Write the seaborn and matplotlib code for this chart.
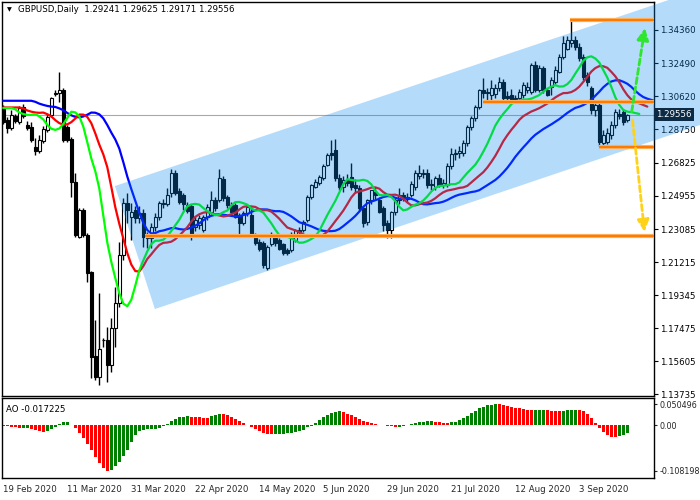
import matplotlib
matplotlib.use("Agg")
import matplotlib.pyplot as plt
import seaborn as sns
import numpy as np
import pandas as pd
from matplotlib.patches import Polygon

# ---------------- data ----------------
opens = [1.2990,1.2926,1.2879,1.2948,1.2913,1.3000,1.2897,1.2888,1.2775,1.2752,
         1.2809,1.2869,1.2954,1.3075,1.3077,1.3096,1.2888,1.2818,1.2577,1.2266,
         1.2417,1.2275,1.2067,1.1589,1.1472,1.1680,1.1680,1.1538,1.1746,1.1887,
         1.2161,1.2454,1.2379,1.2417,1.2369,1.2398,1.2266,1.2256,1.2322,1.2379,
         1.2454,1.2453,1.2510,1.2624,1.2525,1.2501,1.2444,1.2438,1.2322,1.2331,
         1.2302,1.2378,1.2406,1.2472,1.2472,1.2590,1.2491,1.2444,1.2444,1.2387,
         1.2340,1.2397,1.2387,1.2274,1.2236,1.2230,1.2085,1.2226,1.2255,1.2245,
         1.2221,1.2189,1.2189,1.2245,1.2302,1.2302,1.2360,1.2491,1.2548,1.2567,
         1.2595,1.2672,1.2737,1.2756,1.2595,1.2548,1.2585,1.2604,1.2560,1.2540,
         1.2425,1.2350,1.2472,1.2520,1.2472,1.2425,1.2340,1.2302,1.2406,1.2472,
         1.2500,1.2491,1.2500,1.2548,1.2610,1.2625,1.2623,1.2557,1.2548,1.2595,
         1.2557,1.2557,1.2665,1.2733,1.2740,1.2737,1.2793,1.2888,1.2935,1.3001,
         1.3096,1.3077,1.3067,1.3073,1.3105,1.3143,1.3061,1.3067,1.3048,1.3048,
         1.3067,1.3095,1.3086,1.3237,1.3095,1.3218,1.3095,1.3114,1.3143,1.3200,
         1.3284,1.3330,1.3360,1.3382,1.3341,1.3284,1.3180,1.3105,1.2982,1.3010,
         1.2793,1.2802,1.2840,1.2897,1.2960,1.2973,1.29241]
highs = [1.3010,1.2941,1.2983,1.2960,1.3005,1.3015,1.2920,1.2916,1.2822,1.2841,
         1.2890,1.2960,1.3058,1.3095,1.3200,1.3105,1.2898,1.2830,1.2624,1.2426,
         1.2426,1.2285,1.2070,1.1793,1.1944,1.1689,1.1755,1.1802,1.1982,1.2237,
         1.2483,1.2511,1.2454,1.2440,1.2440,1.2420,1.2290,1.2340,1.2400,1.2470,
         1.2480,1.2540,1.2646,1.2640,1.2540,1.2510,1.2460,1.2450,1.2380,1.2390,
         1.2390,1.2450,1.2525,1.2490,1.2646,1.2610,1.2500,1.2460,1.2455,1.2400,
         1.2410,1.2445,1.2440,1.2285,1.2250,1.2240,1.2220,1.2290,1.2270,1.2255,
         1.2230,1.2200,1.2290,1.2310,1.2320,1.2360,1.2500,1.2565,1.2590,1.2615,
         1.2675,1.2740,1.2812,1.2816,1.2620,1.2610,1.2620,1.2680,1.2590,1.2560,
         1.2440,1.2480,1.2530,1.2545,1.2490,1.2440,1.2360,1.2410,1.2490,1.2540,
         1.2520,1.2510,1.2580,1.2640,1.2670,1.2650,1.2650,1.2590,1.2610,1.2620,
         1.2590,1.2680,1.2770,1.2760,1.2780,1.2810,1.2900,1.2950,1.3010,1.3100,
         1.3162,1.3110,1.3150,1.3130,1.3170,1.3160,1.3090,1.3100,1.3070,1.3100,
         1.3140,1.3140,1.3250,1.3260,1.3240,1.3230,1.3110,1.3170,1.3230,1.3300,
         1.3400,1.3400,1.3490,1.3400,1.3360,1.3300,1.3200,1.3120,1.3040,1.3030,
         1.2870,1.2880,1.2920,1.2990,1.2990,1.2990,1.29625]
lows = [1.2905,1.2851,1.2869,1.2910,1.2905,1.2940,1.2870,1.2804,1.2727,1.2741,
        1.2795,1.2860,1.2945,1.3060,1.3030,1.2804,1.2804,1.2492,1.2266,1.2256,
        1.2266,1.2011,1.1462,1.1453,1.1425,1.1641,1.1444,1.1500,1.1642,1.1868,
        1.2133,1.2341,1.2247,1.2340,1.2340,1.2209,1.2200,1.2200,1.2300,1.2360,
        1.2430,1.2440,1.2490,1.2500,1.2450,1.2416,1.2400,1.2249,1.2300,1.2310,
        1.2290,1.2360,1.2395,1.2410,1.2460,1.2470,1.2430,1.2395,1.2370,1.2274,
        1.2330,1.2385,1.2265,1.2220,1.2185,1.2085,1.2076,1.2215,1.2215,1.2190,
        1.2160,1.2160,1.2180,1.2235,1.2280,1.2290,1.2350,1.2480,1.2540,1.2555,
        1.2585,1.2665,1.2700,1.2580,1.2530,1.2520,1.2550,1.2530,1.2520,1.2410,
        1.2320,1.2330,1.2450,1.2480,1.2400,1.2300,1.2255,1.2255,1.2390,1.2450,
        1.2470,1.2460,1.2490,1.2530,1.2590,1.2600,1.2540,1.2530,1.2530,1.2545,
        1.2540,1.2545,1.2650,1.2700,1.2710,1.2720,1.2780,1.2870,1.2920,1.2990,
        1.3050,1.3040,1.3020,1.3050,1.3090,1.3030,1.3020,1.3030,1.3020,1.3030,
        1.3050,1.3080,1.3075,1.3085,1.3085,1.3080,1.3060,1.3070,1.3130,1.3190,
        1.3270,1.3320,1.3340,1.3320,1.3260,1.3150,1.3120,1.2960,1.2950,1.2780,
        1.2770,1.2790,1.2820,1.2880,1.2930,1.2900,1.29171]
closes = [1.2912,1.2879,1.2954,1.2922,1.2992,1.2950,1.2879,1.2813,1.2752,1.2812,
          1.2873,1.2945,1.3049,1.3079,1.3096,1.2813,1.2813,1.2577,1.2275,1.2417,
          1.2275,1.2058,1.1585,1.1472,1.1627,1.1678,1.1538,1.1746,1.1887,1.2161,
          1.2454,1.2417,1.2407,1.2369,1.2400,1.2266,1.2256,1.2322,1.2379,1.2454,
          1.2450,1.2501,1.2624,1.2510,1.2463,1.2453,1.2410,1.2283,1.2360,1.2369,
          1.2378,1.2435,1.2472,1.2425,1.2595,1.2482,1.2444,1.2406,1.2378,1.2340,
          1.2397,1.2435,1.2274,1.2230,1.2198,1.2104,1.2208,1.2283,1.2228,1.2198,
          1.2170,1.2170,1.2283,1.2302,1.2290,1.2350,1.2491,1.2557,1.2576,1.2605,
          1.2665,1.2730,1.2727,1.2595,1.2548,1.2585,1.2570,1.2548,1.2540,1.2425,
          1.2340,1.2472,1.2529,1.2500,1.2406,1.2330,1.2302,1.2406,1.2472,1.2500,
          1.2491,1.2480,1.2566,1.2623,1.2625,1.2620,1.2557,1.2566,1.2595,1.2557,
          1.2570,1.2665,1.2733,1.2740,1.2750,1.2797,1.2888,1.2935,1.3001,1.3096,
          1.3077,1.3085,1.3105,1.3110,1.3143,1.3048,1.3048,1.3039,1.3040,1.3086,
          1.3124,1.3115,1.3237,1.3095,1.3218,1.3095,1.3067,1.3152,1.3209,1.3284,
          1.3360,1.3379,1.3379,1.3341,1.3275,1.3171,1.3143,1.2982,1.3010,1.2802,
          1.2840,1.2850,1.2897,1.2973,1.2950,1.2916,1.29556]

ao_values = [-0.0010,-0.0016,-0.0032,-0.0048,-0.0064,-0.0060,-0.0056,-0.0080,-0.0100,-0.0125,
             -0.0150,-0.0140,-0.0095,-0.0040,0.0040,0.0080,0.0090,0.0020,-0.0070,-0.0180,
             -0.0300,-0.0450,-0.0600,-0.0760,-0.0900,-0.1010,-0.108198,-0.1075,-0.0980,-0.0880,
             -0.0740,-0.0580,-0.0400,-0.0240,-0.0140,-0.0110,-0.0098,-0.0095,-0.0092,-0.0060,
             -0.0020,0.0040,0.0100,0.0150,0.0190,0.0210,0.0225,0.0200,0.0195,0.0190,
             0.0188,0.0185,0.0215,0.0245,0.0280,0.0265,0.0240,0.0200,0.0150,0.0100,
             0.0060,0.0020,-0.0030,-0.0080,-0.0140,-0.0190,-0.0205,-0.0210,-0.0205,-0.0200,
             -0.0198,-0.0190,-0.0180,-0.0165,-0.0140,-0.0100,-0.0050,-0.0010,0.0060,0.0140,
             0.0210,0.0260,0.0300,0.0330,0.0350,0.0315,0.0270,0.0240,0.0200,0.0155,
             0.0110,0.0070,0.0045,0.0030,0.0015,0.0005,-0.0010,-0.0025,-0.0030,-0.0028,
             -0.0025,0.0010,0.0035,0.0060,0.0080,0.0092,0.0095,0.0097,0.0090,0.0075,
             0.0060,0.0055,0.0080,0.0085,0.0120,0.0170,0.0230,0.0290,0.0350,0.0410,
             0.0450,0.0480,0.0495,0.050496,0.0500,0.0485,0.0465,0.0445,0.0425,0.0405,
             0.0390,0.0370,0.0365,0.0368,0.0370,0.0372,0.0368,0.0355,0.0345,0.0340,
             0.0355,0.0365,0.0370,0.0372,0.0368,0.0345,0.0280,0.0170,0.0050,-0.0060,
             -0.0160,-0.0240,-0.0280,-0.0283,-0.0265,-0.0225,-0.017225]

price_ticks = [1.34360, 1.32490, 1.30620, 1.28750, 1.26825, 1.24955,
               1.23085, 1.21215, 1.19345, 1.17475, 1.15605, 1.13735]
ao_ticks = [0.050496, 0.0, -0.108198]
ao_tick_labels = ["0.050496", "0.00", "-0.108198"]
date_labels = ["19 Feb 2020", "11 Mar 2020", "31 Mar 2020", "22 Apr 2020", "14 May 2020",
               "5 Jun 2020", "29 Jun 2020", "21 Jul 2020", "12 Aug 2020", "3 Sep 2020"]
date_positions = [0, 16, 32, 48, 64, 80, 96, 112, 128, 144]

bid_price = 1.29556
title_text = "GBPUSD,Daily  1.29241 1.29625 1.29171 1.29556"
ao_text = "AO -0.017225"

# Alligator settings and starting values (read at the chart's left edge)
jaw_period, jaw_shift, jaw_seed = 13, 8, 1.3035
teeth_period, teeth_shift, teeth_seed = 8, 5, 1.2997
lips_period, lips_shift, lips_seed = 5, 3, 1.2994

# Horizontal levels: (price, start bar)
levels = [(1.2267, 35.4), (1.3493, 141.7), (1.3030, 120.0), (1.2775, 148.9)]
# Channel corners (bar, price)
channel = [(27.9, 1.2552), (174.2, 1.3666), (174.2, 1.2898), (37.9, 1.1855)]
# Forecast arrows: (start bar, start price, end bar, end price)
arrow_up = (157.1, 1.2973, 160.4, 1.3447)
arrow_down = (157.3, 1.2926, 160.3, 1.2292)

# ---------------- figure ----------------
sns.set_style("white")
plt.rcParams["font.family"] = ["DejaVu Sans"]

W, H = 700, 500
fig = plt.figure(figsize=(7, 5), dpi=100, facecolor="white")

def rect(x0, y0, x1, y1):
    return [x0 / W, 1 - y1 / H, (x1 - x0) / W, (y1 - y0) / H]

ax = fig.add_axes(rect(2, 2, 654, 396))
ax2 = fig.add_axes(rect(2, 398, 654, 478))

n = len(closes)
idx = np.arange(n)
o = np.array(opens); h = np.array(highs); l = np.array(lows); c = np.array(closes)

xlim = (-0.325, 162.675)

# candles
ax.vlines(idx, l, h, color="black", lw=1.0, zorder=2)
up = c >= o
body_bottom = np.minimum(o, c)
body_h = np.maximum(np.abs(c - o), 0.00025)
ax.bar(idx[up], body_h[up], bottom=body_bottom[up], width=0.72,
       color="white", edgecolor="black", lw=0.8, zorder=2.1)
ax.bar(idx[~up], body_h[~up], bottom=body_bottom[~up], width=0.72,
       color="black", edgecolor="black", lw=0.8, zorder=2.1)

# alligator
median = (h + l) / 2.0

def smma(values, period, seed):
    out, prev = [], seed
    for v in values:
        prev = (prev * (period - 1) + v) / period
        out.append(prev)
    return np.array(out)

def shifted_line(period, shift, seed):
    vals = smma(median, period, seed)
    xs = np.concatenate([np.arange(shift), idx + shift])
    ys = np.concatenate([np.full(shift, seed), vals])
    return pd.DataFrame({"x": xs, "y": ys})

for (period, shift, seed, col) in [(jaw_period, jaw_shift, jaw_seed, "#0000ff"),
                                    (teeth_period, teeth_shift, teeth_seed, "#ff0000"),
                                    (lips_period, lips_shift, lips_seed, "#00ff00")]:
    df = shifted_line(period, shift, seed)
    sns.lineplot(data=df, x="x", y="y", color=col, lw=1.6, ax=ax,
                 estimator=None, sort=False, zorder=3)

# bid line
ax.axhline(bid_price, color="#a8a8a8", lw=0.8, zorder=1)

# channel overlay
poly = Polygon(channel, closed=True, facecolor="#088aee", alpha=0.3,
               edgecolor="none", zorder=4, clip_on=False)
ax.add_patch(poly)

# horizontal levels
for price, start in levels:
    ax.hlines(price, start, xlim[1], color="#ffb566", lw=3.0, zorder=5)
    ax.hlines(price, start, xlim[1], color="#ff7a00", lw=1.6, zorder=5.1)

# arrows
for (x0, y0, x1, y1), col in [(arrow_up, "#2ee62e"), (arrow_down, "#ffd21a")]:
    ax.annotate("", xy=(x1, y1), xytext=(x0, y0),
                arrowprops=dict(arrowstyle="-|>,head_length=0.7,head_width=0.35",
                                color=col, lw=2.0, linestyle=(0, (2.2, 1.2)),
                                shrinkA=0, shrinkB=0),
                zorder=6)

ax.set_xlim(*xlim)
ax.set_ylim(1.13624, 1.35946)
ax.set_xticks([])
ax.yaxis.tick_right()
ax.set_yticks(price_ticks)
ax.set_yticklabels([f"{p:.5f}" for p in price_ticks])
ax.tick_params(axis="y", direction="out", length=3, width=0.8, labelsize=6.2,
               pad=1.5, colors="black")
ax.set_xlabel(""); ax.set_ylabel("")
for s in ax.spines.values():
    s.set_color("black"); s.set_linewidth(1.0); s.set_visible(True)

# bid label box
ax.text(1.003, bid_price, f"{bid_price:.5f}", transform=ax.get_yaxis_transform(),
        ha="left", va="center", fontsize=6.2, color="white", zorder=8, clip_on=False,
        bbox=dict(boxstyle="square,pad=0.25", fc="#0b2a46", ec="none"))

# ---------------- AO panel ----------------
ao = np.array(ao_values)
ao_colors = ["#ff0000"] + ["#008000" if ao[i] > ao[i - 1] else "#ff0000" for i in range(1, len(ao))]
ax2.bar(np.arange(len(ao)), ao, width=0.62, color=ao_colors, lw=0, zorder=2)
ax2.set_xlim(*xlim)
ax2.set_ylim(-0.1260, 0.0655)
ax2.yaxis.tick_right()
ax2.set_yticks(ao_ticks)
ax2.set_yticklabels(ao_tick_labels)
ax2.set_xticks(date_positions)
ax2.set_xticklabels(date_labels)
for lab in ax2.get_xticklabels():
    lab.set_ha("left")
ax2.tick_params(axis="y", direction="out", length=2.5, width=0.8, labelsize=5.8, pad=1.2)
ax2.tick_params(axis="x", direction="out", length=4, width=0.8, labelsize=6.2, pad=1)
for s in ax2.spines.values():
    s.set_color("black"); s.set_linewidth(1.0); s.set_visible(True)

# texts
fig.text(7 / W, 1 - 10 / H, "\u25BC", fontsize=4.5, va="center", ha="left", color="black")
fig.text(18 / W, 1 - 10 / H, title_text, fontsize=6.2, va="center", ha="left", color="black")
fig.text(6 / W, 1 - 409 / H, ao_text, fontsize=6.2, va="center", ha="left", color="black")

fig.savefig("out.png", dpi=100, facecolor="white")
